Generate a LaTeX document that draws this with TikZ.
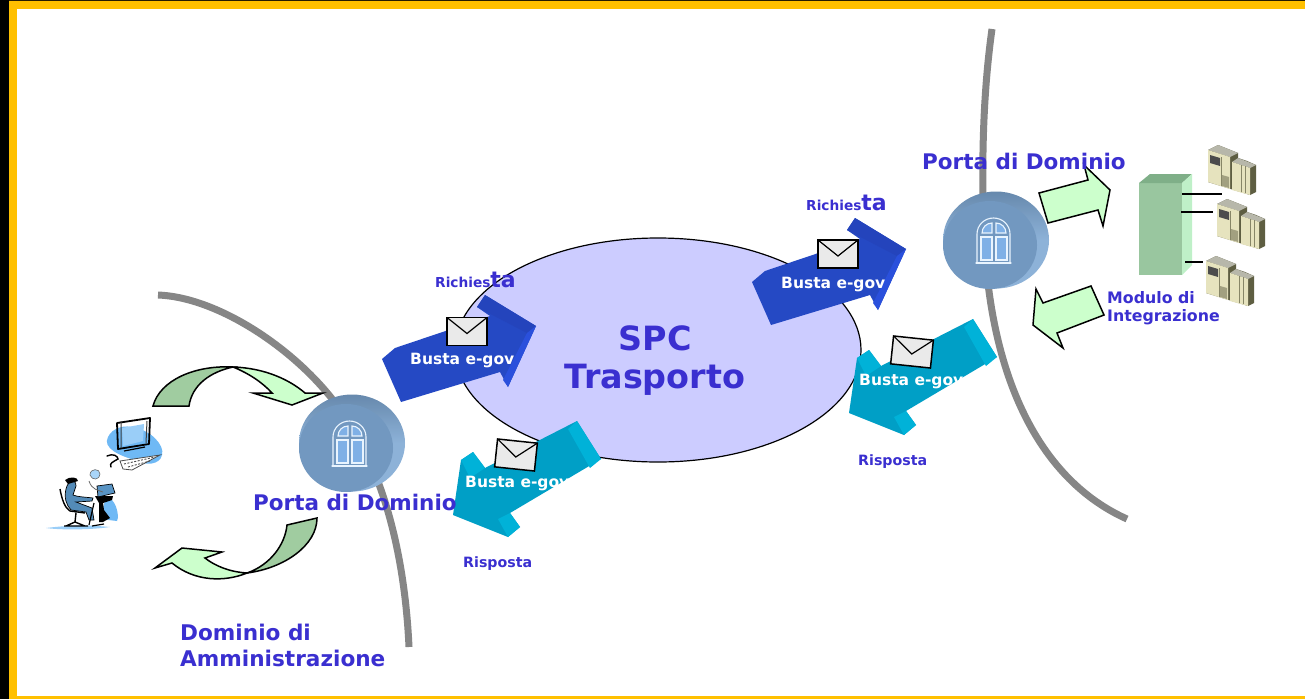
\documentclass[tikz,border=0pt]{standalone}
\usepackage{fontspec}
\usetikzlibrary{shapes.geometric}
\setmainfont{DejaVu Sans}
\definecolor{gold}{HTML}{FFC000}
\definecolor{lab}{HTML}{3A2FD0}
\definecolor{cloud}{HTML}{CCCCFF}
\definecolor{rail}{HTML}{868686}
\definecolor{navy}{HTML}{2549C4}
\definecolor{navyd}{HTML}{2444BC}
\definecolor{navyl}{HTML}{2A50DC}
\definecolor{teal}{HTML}{009FC6}
\definecolor{teall}{HTML}{00B2D8}
\definecolor{mint}{HTML}{CCFFCC}
\definecolor{sage}{HTML}{A0CCA0}
\definecolor{tower}{HTML}{99C69F}
\definecolor{towert}{HTML}{7FAF88}
\definecolor{towerr}{HTML}{BFF0C8}
\definecolor{portd}{HTML}{7298C0}
\definecolor{portl}{HTML}{8DB2D8}
\definecolor{envf}{HTML}{EAEAEA}
\definecolor{srv}{HTML}{E6E3BE}
\definecolor{srvd}{HTML}{5E5E42}
\definecolor{skyb}{HTML}{6FB9F5}
\definecolor{pane}{HTML}{7FB0E6}
\tikzset{
  lbl/.style={font=\bfseries\fontsize{#1}{#1}\selectfont,text=lab,inner sep=0pt,align=left,anchor=west},
  wht/.style={font=\bfseries\fontsize{15.5}{15.5}\selectfont,text=white,inner sep=0pt,anchor=west},
  railline/.style={draw=rail,line width=7pt},
  pen/.style={draw=black,line width=1.5pt,line join=miter},
  wire/.style={draw=black,line width=1.3pt},
  envelope/.pic={
    \path[fill=envf,draw=black,line width=1.5pt] (-20,-14) -- (20,-14) -- (20,14) -- (-20,14) -- cycle;
    \draw[black,line width=1.2pt] (-20,-14) -- (0,2) -- (20,-14);
  },
  port/.pic={
    \path[top color=portd!90!black,bottom color=portl,middle color=portl] (0,0) ellipse[x radius=53,y radius=48.5];
    \path[fill=portd] (-6,5) ellipse[x radius=47,y radius=44];
    \begin{scope}[draw=white!85!skyb,line width=1.1pt,line cap=round]
      \path[fill=pane] (-15,-3) rectangle (-4,20) (0,-3) rectangle (11,20);
      \draw (-15,-3) rectangle (-4,20) (0,-3) rectangle (11,20);
      \draw (-20,23) -- (15,23);
      \draw (-19,23) -- (-19,-6) arc[start angle=180,end angle=360,x radius=16.5,y radius=16] -- (14,23);
      \path[fill=pane] (-14,-7) arc[start angle=180,end angle=270,x radius=10,y radius=10] -- (-4,-7) -- cycle
        (0,-17) arc[start angle=270,end angle=360,x radius=10,y radius=10] -- (0,-7) -- cycle;
      \draw (-14,-7) arc[start angle=180,end angle=270,x radius=10,y radius=10] -- (-4,-7) -- cycle;
      \draw (0,-17) arc[start angle=270,end angle=360,x radius=10,y radius=10] -- (0,-7) -- cycle;
    \end{scope}
  },
  server/.pic={
    \path[fill=srvd] (1,5) -- (11,0) -- (31,8) -- (31,13) -- (40,16) -- (49,20) -- (49,47) -- (43,50) -- (1,37) -- cycle;
    \path[fill=srvd!45!white] (1,5) -- (11,0) -- (31,8) -- (23,12) -- cycle;
    \path[fill=srvd!45!white] (25,17) -- (31,13) -- (49,20) -- (43,23) -- cycle;
    \path[fill=srv] (1,5) -- (23,12) -- (23,44) -- (1,37) -- cycle;
    \path[fill=srv] (25,17) -- (43,23) -- (43,50) -- (25,45) -- cycle;
    \path[fill=black!70] (3,10) -- (13,13) -- (13,21) -- (3,18) -- cycle;
    \path[fill=srvd!50!srv] (15,30) -- (22,32) -- (22,43) -- (15,41) -- cycle;
    \draw[srvd!70!srv,line width=.6pt] (14.5,12) -- (14.5,41) (34,20) -- (34,47) (38,21) -- (38,48);
  },
  bluearrow/.pic={
    \path[fill=navy] (382,359) -- (395,348) -- (490,316) -- (477,307) -- (485,295) -- (536,326) -- (508,387) -- (500,372) -- (401,402) -- cycle;
    \path[fill=navyd] (477,307) -- (485,295) -- (536,326) -- (527,333) -- cycle;
    \path[fill=navyl] (527,333) -- (536,326) -- (508,387) -- (503,380) -- cycle;
  },
  tealarrow/.pic={
    \path[fill=teal] (453,515) -- (461,460) -- (473,452) -- (485,468) -- (577,421) -- (601,459) -- (510,513) -- (520,527) -- (508,537) -- cycle;
    \path[fill=teall] (568,429) -- (577,421) -- (601,459) -- (590,468) -- cycle;
    \path[fill=teall] (461,460) -- (473,452) -- (485,468) -- (470,478) -- cycle;
    \path[fill=teall] (498,519) -- (510,513) -- (520,527) -- (508,537) -- cycle;
  },
}
\begin{document}
\begin{tikzpicture}[x=1pt,y=-1pt]
\useasboundingbox (0,0) rectangle (1305,699);
\fill[gold] (0,0) rectangle (1305,699);
\fill[black!85!gold] (0,0) rectangle (1305,1);
\fill[black] (0,0) rectangle (9,699);
\fill[white] (17,9) rectangle (1305,696);

% rails
\draw[railline] (158,295) .. controls (215,297) and (290,345) .. (333,400) .. controls (385,465) and (405,560) .. (409,647);
\draw[railline] (992,29) .. controls (982,100) and (981,180) .. (985,250) .. controls (993,380) and (1040,480) .. (1127,519);

% cloud
\node[ellipse,draw=black,line width=1.2pt,fill=cloud,minimum width=406,minimum height=224,inner sep=0pt] (spc) at (658,350) {};
\node[font=\bfseries\fontsize{33.4}{38}\selectfont,text=lab,align=center,inner sep=0pt] (spctxt) at (655,361) {SPC\\Trasporto};

% ports
\pic (portA) at (352,443) {port};
\pic (portB) at (996,240) {port};

% message arrows
\pic (b1) at (0,0) {bluearrow};
\pic (b2) at (370,-77) {bluearrow};
\pic (t1) at (0,0) {tealarrow};
\pic (t2) at (396,-102) {tealarrow};
\pic (e1) at (467,331.5) {envelope};
\pic (e2) at (838,254) {envelope};
\pic[rotate=-6] (e3) at (516,455) {envelope};
\pic[rotate=-6] (e4) at (912,352) {envelope};

% curved arrows
\path[pen,fill=sage] (153,406) .. controls (160,380) and (195,365) .. (233,367) .. controls (210,372) and (192,385) .. (189,406) -- cycle;
\path[pen,fill=mint] (233,367) .. controls (265,368) and (290,380) .. (305,393) -- (323,393) -- (292,405) -- (253,393) -- (272,393) .. controls (262,382) and (248,373) .. (233,367) -- cycle;
\path[pen,fill=sage] (317,518) .. controls (317,545) and (285,568) .. (247,573) .. controls (270,565) and (285,545) .. (287,525) -- cycle;
\path[pen,fill=mint] (247,573) .. controls (225,582) and (195,582) .. (172,563) -- (155,568) -- (182,548) -- (222,552) -- (205,558) .. controls (215,566) and (230,572) .. (247,573) -- cycle;

% right straight arrows
\path[pen,fill=mint] (1039,193) -- (1088,180) -- (1084,165) -- (1110,190) -- (1103,226) -- (1098,210) -- (1048,223) -- cycle;
\path[pen,fill=mint] (1091,286) -- (1104,315) -- (1057,333) -- (1063,348) -- (1033,325) -- (1036,289) -- (1043,303) -- cycle;

% tower
\path[fill=tower] (1139,183) rectangle (1182,275);
\path[fill=towert] (1139,183) -- (1150,174) -- (1192,174) -- (1182,183) -- cycle;
\path[fill=towerr] (1182,183) -- (1192,174) -- (1192,265) -- (1182,275) -- cycle;
\coordinate (w1a) at (1182,194); \coordinate (w1b) at (1222,194);
\coordinate (w2a) at (1181,212); \coordinate (w2b) at (1213,212);
\coordinate (w3a) at (1185,262); \coordinate (w3b) at (1203,262);
\draw[wire] (w1a) -- (w1b);
\draw[wire] (w2a) -- (w2b);
\draw[wire] (w3a) -- (w3b);
\pic (s1) at (1207,145) {server};
\pic (s2) at (1216,199) {server};
\pic (s3) at (1205,256) {server};

% computer
\path[fill=skyb] (108,437) .. controls (112,428) and (125,424) .. (135,428) .. controls (150,430) and (165,445) .. (162,455) .. controls (160,465) and (145,466) .. (135,460) .. controls (120,456) and (102,448) .. (108,437) -- cycle;
\draw[black,line width=1.8pt,line join=round] (117,423) -- (150,418) -- (149,444) -- (118,449) -- cycle;
\draw[black!75,line width=1pt] (121,421) -- (121,448) (147,421) -- (146,443);
\path[fill=skyb!70!white] (122,428) -- (144,424) -- (143,441) -- (123,446) -- cycle;
\draw[black,line width=1.2pt] (124,451) -- (145,447);
\draw[black,line width=1.4pt,line cap=round] (107,456) .. controls (113,453) and (118,456) .. (118,459) .. controls (113,462) and (109,463) .. (111,467);
\path[fill=white,draw=black!70,line width=.8pt] (120,461) -- (160,455) -- (132,470) -- (123,469) -- cycle;
\draw[black!70,line width=.9pt,dash pattern=on 2pt off 1.5pt] (124,464) -- (155,457) (128,467) -- (150,461);

% person
\path[fill=skyb] (106,497) .. controls (115,497) and (120,515) .. (117,521) -- (100,519) -- cycle;
\path[fill=skyb!70!white] (46,528) .. controls (70,525) and (90,525) .. (110,527) .. controls (90,530) and (60,530) .. (46,528) -- cycle;
\path[fill=black] (95,496) -- (113,496) -- (112,500) -- (103,503) -- (104,510) -- (110,518) -- (103,522) -- (99,522) -- (99,503) -- cycle;
\path[fill=skyb!80!black,draw=black,line width=.7pt] (97,486) -- (112,484) -- (115,493) -- (98,497) -- cycle;
\path[fill=skyb!60!white,draw=black!60,line width=.6pt] (90,475) .. controls (90,468) and (100,468) .. (100,474) .. controls (100,480) and (92,481) .. (90,475) -- cycle;
\draw[black!60,line width=.8pt] (89,481) .. controls (92,490) and (98,490) .. (103,492);
\path[fill=skyb!75!black,draw=black,line width=.7pt] (66,489) .. controls (68,480) and (76,478) .. (76,486) -- (73,495) .. controls (78,497) and (85,497) .. (93,498) -- (92,501) -- (76,502) -- (92,508) -- (94,520) -- (89,520) -- (86,512) -- (71,510) .. controls (66,505) and (64,497) .. (66,489) -- cycle;
\path[fill=black] (65,480) .. controls (70,476) and (78,477) .. (78,481) -- (68,484) -- cycle;
\draw[black,line width=1.4pt] (60,489) .. controls (62,500) and (65,508) .. (70,511) -- (85,513) (76,513) -- (75,522) (64,526) -- (88,526) (75,522) -- (66,526) (75,522) -- (85,526);
\draw[black,line width=1.2pt] (94,503) -- (89,525) (92,526) -- (104,524);

% labels
\node[lbl=21.5] (pA) at (253,502) {Porta di Dominio};
\node[lbl=21.5] (pB) at (922,161) {Porta di Dominio};
\node[lbl=21,font=\bfseries\fontsize{21.6}{26}\selectfont] (dom) at (180,645) {Dominio di\\Amministrazione};
\node[lbl=16,font=\bfseries\fontsize{15.8}{18}\selectfont] (mod) at (1107,308) {Modulo di\\Integrazione};
\node[lbl=13.7] (r1) at (435,280) {Richies{\fontsize{22}{22}\selectfont ta}};
\node[lbl=13.7] (r2) at (806,203) {Richies{\fontsize{22}{22}\selectfont ta}};
\node[lbl=14.2] (a1) at (463,564) {Risposta};
\node[lbl=14.2] (a2) at (858,462) {Risposta};
\node[wht] (m1) at (410,361) {Busta e-gov};
\node[wht] (m2) at (781,285) {Busta e-gov};
\node[wht] (m3) at (465,484) {Busta e-gov};
\node[wht] (m4) at (859,382) {Busta e-gov};
\end{tikzpicture}
\end{document}
